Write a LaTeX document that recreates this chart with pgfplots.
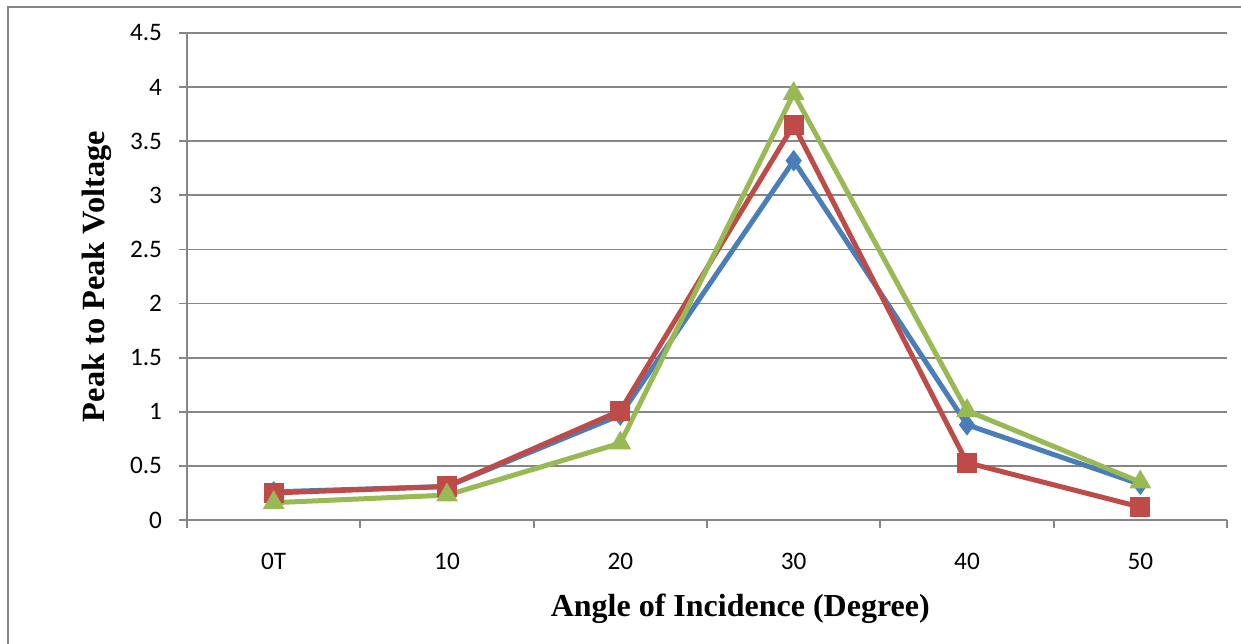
\documentclass[border=0pt]{standalone}
\usepackage{pgfplots}
\pgfplotsset{compat=1.18}
\usepackage{fontspec}
\setmainfont{Carlito}
\newfontfamily\tnr{Liberation Serif}
\definecolor{sblue}{HTML}{4A7EBB}
\definecolor{sred}{HTML}{BE4B48}
\definecolor{sgreen}{HTML}{98B954}
\definecolor{axgray}{HTML}{868686}
\begin{document}
\begin{tikzpicture}
\useasboundingbox (-93.5pt,-61.5pt) rectangle (527pt,260pt);
\draw[axgray, line width=1.3pt] (-89.5pt,-70pt) -- (-89.5pt,256.5pt) -- (540pt,256.5pt);
\begin{axis}[
  at={(0pt,0pt)}, anchor=south west,
  scale only axis, width=520pt, height=243.5pt,
  xmin=-0.5, xmax=5.5, ymin=0, ymax=4.5,
  axis x line*=bottom, axis y line*=left,
  axis line style={axgray, line width=0.9pt, -},
  xtick={-0.5,0.5,1.5,2.5,3.5,4.5,5.5}, xticklabels={},
  extra x ticks={0,1,2,3,4,5},
  extra x tick labels={0T,10,20,30,40,50},
  extra x tick style={major tick length=0pt, xticklabel style={yshift=-13pt}},
  ytick={0,0.5,1,1.5,2,2.5,3,3.5,4,4.5},
  yticklabels={0,0.5,1,1.5,2,2.5,3,3.5,4,4.5},
  tick align=outside, major tick length=4pt,
  major tick style={axgray, line width=0.9pt},
  ymajorgrids, major grid style={axgray, line width=0.9pt},
  /pgf/number format/assume math mode=true,
  tick label style={font=\fontsize{12.6}{14}\selectfont, text=black},
  yticklabel style={xshift=-5pt},
  xlabel={Angle of Incidence (Degree)},
  ylabel={Peak to Peak Voltage},
  xlabel style={font=\tnr\bfseries\fontsize{16}{18}\selectfont, at={(axis description cs:0.532,-0.199)}, anchor=base},
  ylabel style={font=\tnr\bfseries\fontsize{16.2}{18}\selectfont, at={(axis description cs:-0.0654,0.5)}, anchor=south},
  clip=false,
]
\addplot[sblue, line width=2.5pt, mark=diamond*, mark size=5pt, mark options={solid, fill=sblue, draw=sblue, line width=0.5pt}]
  coordinates {(0,0.26) (1,0.31) (2,0.97) (3,3.32) (4,0.88) (5,0.33)};
\addplot[sred, line width=2.5pt, mark=square*, mark size=4.8pt, mark options={solid, fill=sred, draw=sred, line width=0.5pt}]
  coordinates {(0,0.25) (1,0.31) (2,1.01) (3,3.65) (4,0.53) (5,0.12)};
\addplot[sgreen, line width=2.5pt, mark=triangle*, mark size=5.8pt, mark options={solid, fill=sgreen, draw=sgreen, line width=0.5pt}]
  coordinates {(0,0.16) (1,0.23) (2,0.71) (3,3.94) (4,1.01) (5,0.35)};
\end{axis}
\end{tikzpicture}
\end{document}
